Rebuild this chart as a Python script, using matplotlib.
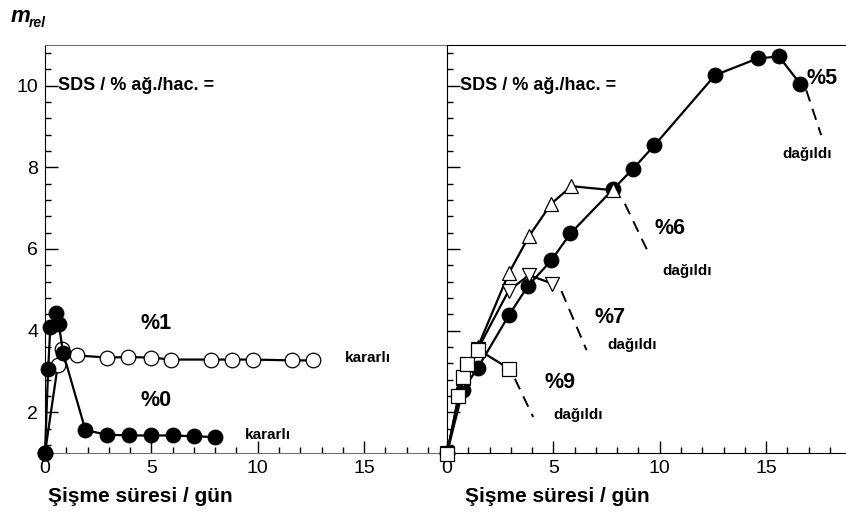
import matplotlib
matplotlib.use("Agg")
import matplotlib.pyplot as plt
from matplotlib.ticker import MultipleLocator

plt.rcParams['font.family'] = ['Liberation Sans', 'DejaVu Sans']

# ---- left panel: SDS 0 % and 1 % (stable gels)
t_sds0 = [0, 0.15, 0.25, 0.5, 0.65, 0.85, 1.9, 2.9, 3.95, 5.0, 6.0, 7.0, 8.0]
m_sds0 = [1.0, 3.07, 4.1, 4.42, 4.15, 3.46, 1.56, 1.45, 1.43, 1.43, 1.43, 1.41, 1.39]

t_sds1 = [0, 0.6, 0.8, 1.5, 2.9, 3.9, 5.0, 5.9, 7.8, 8.8, 9.8, 11.6, 12.6]
m_sds1 = [1.0, 3.15, 3.56, 3.39, 3.34, 3.35, 3.34, 3.29, 3.29, 3.29, 3.29, 3.27, 3.27]

# ---- right panel: SDS 5, 6, 7, 9 % (gels that disintegrate)
t_sds5 = [0, 0.75, 1.45, 2.9, 3.8, 4.9, 5.8, 7.8, 8.75, 9.75, 12.6, 14.6, 15.6, 16.6]
m_sds5 = [1.0, 2.55, 3.09, 4.37, 5.09, 5.72, 6.38, 7.46, 7.97, 8.54, 10.26, 10.67, 10.72, 10.05]

t_sds6 = [0, 0.75, 1.45, 2.9, 3.85, 4.9, 5.85, 7.8]
m_sds6 = [1.0, 2.85, 3.6, 5.4, 6.31, 7.11, 7.54, 7.44]

t_sds7 = [0, 0.75, 1.45, 2.9, 3.85, 4.95]
m_sds7 = [1.0, 2.8, 3.55, 4.98, 5.36, 5.15]

t_sds9 = [0, 0.53, 0.77, 0.92, 1.47, 2.91]
m_sds9 = [0.97, 2.39, 2.86, 3.19, 3.53, 3.07]

x_ticks = [0, 5, 10, 15]
y_ticks = [2, 4, 6, 8, 10]
xlabel = "Şişme süresi / gün"
sds_label = "SDS / % ağ./hac. ="

fig = plt.figure(figsize=(8.46, 5.22), dpi=100)
H = 0.7816
ax1 = fig.add_axes([0.0532, 0.1322, 0.4752, H])
ax2 = fig.add_axes([0.5284, 0.1322, 0.4752, H])

for ax in (ax1, ax2):
    ax.set_xlim(0, 18.9)
    ax.set_ylim(1, 11)
    ax.set_xticks(x_ticks)
    ax.set_yticks(y_ticks)
    ax.xaxis.set_minor_locator(MultipleLocator(1))
    ax.yaxis.set_minor_locator(MultipleLocator(0.4))
    ax.tick_params(which='major', direction='in', length=9, width=1,
                   labelsize=14, top=False, right=False, pad=5)
    ax.tick_params(which='minor', direction='in', length=4.5, width=1,
                   top=False, right=False)
    ax.text(0.61, 10.0, sds_label, fontsize=13, fontweight='bold',
            va='center', ha='left')

ax2.tick_params(axis='y', which='both', labelleft=False)
ax2.spines['right'].set_visible(False)
for s in ('top', 'bottom'):
    ax1.spines[s].set_color('#707070')
ax1.spines['right'].set_visible(False)

mk = dict(lw=1.6, mew=0.9, mec='black', clip_on=False, color='black')

# left panel curves
ax1.plot(t_sds1, m_sds1, marker='o', ms=10.5, mfc='white', zorder=3, **mk)
ax1.plot(t_sds0, m_sds0, marker='o', ms=10.5, mfc='black', zorder=4, **mk)

big = dict(fontsize=15.5, fontweight='bold', ha='center', va='center')
small = dict(fontsize=11, fontweight='bold', ha='center', va='center')

ax1.text(5.2, 4.18, "%1", **big)
ax1.text(5.2, 2.29, "%0", **big)
ax1.text(15.2, 3.34, "kararlı", **small)
ax1.text(10.5, 1.43, "kararlı", **small)

# right panel curves
ax2.plot(t_sds5, m_sds5, marker='o', ms=10.5, mfc='black', zorder=3, **mk)
ax2.plot(t_sds6, m_sds6, marker='^', ms=10, mfc='white', zorder=4, **mk)
ax2.plot(t_sds7, m_sds7, marker='v', ms=10, mfc='white', zorder=4, **mk)
ax2.plot(t_sds9, m_sds9, marker='s', ms=9.5, mfc='white', zorder=5, **mk)

dash = dict(color='black', lw=1.4, ls=(0, (6, 4)))
ax2.plot([16.89, 17.59], [9.89, 8.79], **dash)
ax2.plot([8.36, 9.45], [7.11, 5.93], **dash)
ax2.plot([5.38, 6.56], [4.97, 3.52], **dash)
ax2.plot([3.19, 4.05], [2.82, 1.88], **dash)

ax2.text(17.65, 10.18, "%5", **big)
ax2.text(16.95, 8.34, "dağıldı", **small)
ax2.text(10.47, 6.51, "%6", **big)
ax2.text(11.31, 5.45, "dağıldı", **small)
ax2.text(7.65, 4.33, "%7", **big)
ax2.text(8.69, 3.64, "dağıldı", **small)
ax2.text(5.31, 2.73, "%9", **big)
ax2.text(6.15, 1.94, "dağıldı", **small)

# axis titles
fig.text(140 / 846, 1 - 497 / 522, xlabel, fontsize=15, fontweight='bold',
         ha='center', va='center')
fig.text(557 / 846, 1 - 497 / 522, xlabel, fontsize=15, fontweight='bold',
         ha='center', va='center')
fig.text(11 / 846, 1 - 22 / 522, "m", fontsize=16, fontweight='bold',
         fontstyle='italic', ha='left', va='baseline')
fig.text(29 / 846, 1 - 27 / 522, "rel", fontsize=10, fontweight='bold',
         fontstyle='italic', ha='left', va='baseline')

fig.savefig("out.png", dpi=100)
